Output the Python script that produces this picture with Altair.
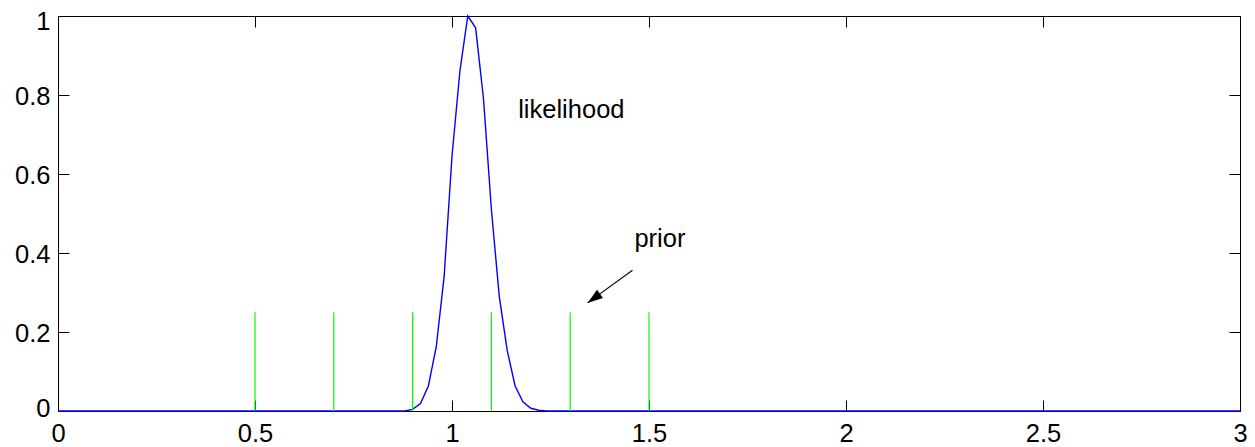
import altair as alt
import pandas as pd

# likelihood curve
lik_x = [0.0, 0.88, 0.90, 0.92, 0.94, 0.96, 0.98, 1.00, 1.02, 1.04, 1.06, 1.08,
         1.10, 1.12, 1.14, 1.16, 1.18, 1.20, 1.22, 1.24, 3.0]
lik_y = [0.0, 0.0, 0.004, 0.019, 0.063, 0.162, 0.34, 0.645, 0.86, 1.0, 0.97, 0.79,
         0.51, 0.29, 0.154, 0.064, 0.023, 0.007, 0.002, 0.0, 0.0]

# prior stems
prior_x = [0.5, 0.7, 0.9, 1.1, 1.3, 1.5]
prior_h = [0.25, 0.25, 0.25, 0.25, 0.25, 0.25]

# annotations
ann_text = ["likelihood", "prior"]
ann_x = [1.168, 1.463]
ann_y = [0.743, 0.4155]

arrow_x = [1.458, 1.344]
arrow_y = [0.3565, 0.2736]

x_ticks = [0, 0.5, 1, 1.5, 2, 2.5, 3]
y_ticks = [0, 0.2, 0.4, 0.6, 0.8, 1]

W, H = 1182, 395
FONT = "Liberation Sans"
FS = 25.5

xs = alt.Scale(domain=[0, 3], nice=False, zero=False)
ys = alt.Scale(domain=[0, 1], nice=False)

lik_df = pd.DataFrame({"x": lik_x, "y": lik_y})
prior_df = pd.DataFrame({"x": prior_x, "y0": [0.0] * len(prior_x), "h": prior_h})
ann_df = pd.DataFrame({"t": ann_text, "x": ann_x, "y": ann_y})
arr_df = pd.DataFrame({"x": arrow_x, "y": arrow_y, "o": [0, 1]})
tip_df = pd.DataFrame({"x": [arrow_x[1]], "y": [arrow_y[1]]})

# ticks pointing in: bottom edge (top-orient axis moved down), left edge
line = alt.Chart(lik_df).mark_line(color="#0000ff", strokeWidth=1.4).encode(
    x=alt.X("x:Q", scale=xs, axis=alt.Axis(orient="top", offset=-H, values=x_ticks,
                                           labels=False, tickSize=11, ticks=True,
                                           domain=False, grid=False, title=None)),
    y=alt.Y("y:Q", scale=ys, axis=alt.Axis(orient="right", offset=-W, values=y_ticks,
                                           labels=False, tickSize=11, ticks=True,
                                           domain=False, grid=False, title=None)),
)

# labels
rules = alt.Chart(prior_df).mark_rule(color="#00ff00", strokeWidth=1.2).encode(
    x=alt.X("x:Q", scale=xs, axis=alt.Axis(orient="bottom", values=x_ticks, format="~g",
                                           ticks=False, tickSize=0, labelPadding=10,
                                           labelFlush=False, labelOverlap=False,
                                           domain=False, grid=False, title=None)),
    y=alt.Y("y0:Q", scale=ys, axis=alt.Axis(
        orient="left", values=y_ticks, format="~g",
        ticks=False, tickSize=0, labelPadding=8,
        labelFlush=False, labelOverlap=False,
        labelOffset={"condition": [{"test": "datum.value == 1", "value": 5.5},
                                   {"test": "datum.value == 0", "value": -2.5}],
                     "value": 1},
        domain=False, grid=False, title=None)),
    y2="h:Q",
)

# ticks pointing in: top edge and right edge
texts = alt.Chart(ann_df).mark_text(align="left", baseline="alphabetic", font=FONT,
                                    fontSize=FS, color="black").encode(
    x=alt.X("x:Q", scale=xs, axis=alt.Axis(orient="bottom", offset=-H, values=x_ticks,
                                           labels=False, tickSize=11, ticks=True,
                                           domain=False, grid=False, title=None)),
    y=alt.Y("y:Q", scale=ys, axis=alt.Axis(orient="left", offset=-W, values=y_ticks,
                                           labels=False, tickSize=11, ticks=True,
                                           domain=False, grid=False, title=None)),
    text="t:N",
)

arrow = alt.Chart(arr_df).mark_line(color="black", strokeWidth=1.1).encode(
    x=alt.X("x:Q", scale=xs, axis=None),
    y=alt.Y("y:Q", scale=ys, axis=None),
    order="o:Q",
)

head = alt.Chart(tip_df).mark_point(shape="M0,0 L-0.33,1 L0.33,1 Z", angle=234,
                                    size=950, filled=True, color="black",
                                    opacity=1).encode(
    x=alt.X("x:Q", scale=xs, axis=None),
    y=alt.Y("y:Q", scale=ys, axis=None),
)

chart = alt.layer(line, rules, texts, arrow, head).resolve_axis(
    x="independent", y="independent"
).properties(
    width=W, height=H, autosize="none",
    padding={"left": 50, "top": 8, "right": 7, "bottom": 36},
    background="white",
).configure_view(
    stroke="black", strokeWidth=1
).configure_axis(
    labelFont=FONT, labelFontSize=FS, labelColor="black",
    tickColor="black", tickWidth=1,
)

chart.save("out.html", embed_options={"renderer": "svg", "actions": False})
